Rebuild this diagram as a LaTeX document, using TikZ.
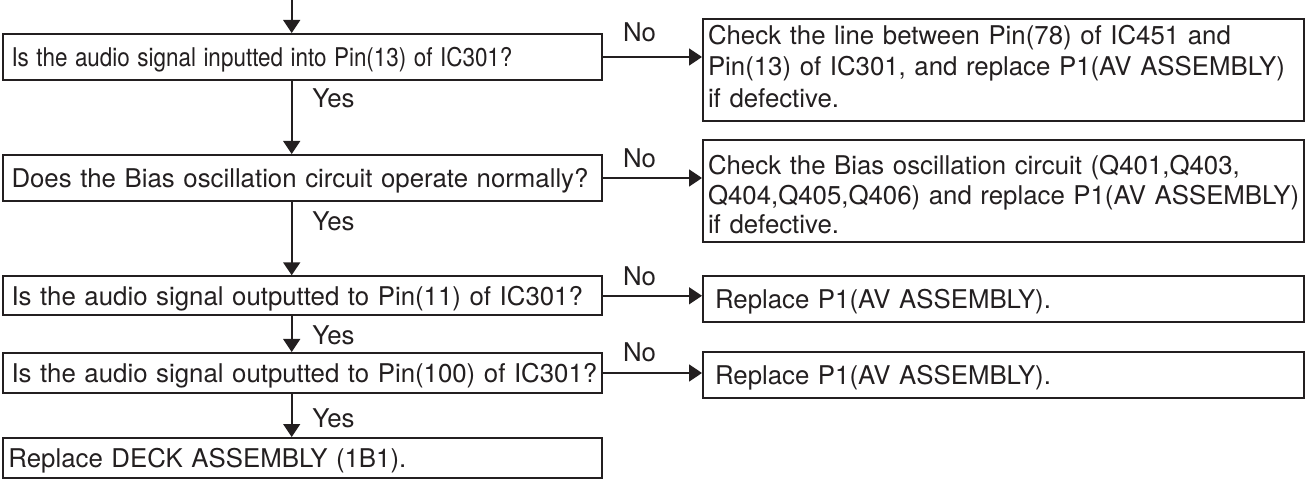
\documentclass[tikz,border=0pt]{standalone}
\usepackage{fontspec}
\setmainfont{TeX Gyre Heros}
\usepackage{graphicx}
\usetikzlibrary{arrows.meta}
\definecolor{ink}{HTML}{231F20}
\begin{document}
\begin{tikzpicture}[x=0.5pt,y=-0.5pt,
  txt/.style={font=\fontsize{12.9pt}{15.75pt}\selectfont, text=ink},
  box/.style={draw=ink, line width=1pt, txt, align=left, inner ysep=0pt},
  lbox/.style={box, minimum width=299.6pt, inner xsep=4.5pt, text width=290.6pt, text height=9.26pt, text depth=0pt},
  rbox/.style={box, minimum width=300.5pt, inner xsep=2.5pt, text width=295.5pt, text height=9.26pt},
  sbox/.style={box, minimum width=300.5pt, inner xsep=6pt, text width=288.5pt, text height=9.26pt, text depth=0pt},
  lab/.style={txt, inner sep=0pt, text height=9.26pt, text depth=0pt},
  conn/.style={draw=ink, line width=0.8pt, -{Triangle[length=6.5pt,width=8.5pt]}},
]
\useasboundingbox (0,0) rectangle (1316,480);

% left column
\node[lbox, minimum height=23pt] (L1) at (302.1,57) {\scalebox{0.87}[1]{Is the audio signal inputted into Pin(13) of IC301?}};
\node[lbox, minimum height=23pt] (L2) at (302.1,178) {\mbox{Does the Bias oscillation circuit operate normally?}};
\node[lbox, minimum height=19.5pt] (L3) at (302.1,295.8) {\mbox{Is the audio signal outputted to Pin(11) of IC301?}};
\node[lbox, minimum height=20pt] (L4) at (302.1,373) {\mbox{Is the audio signal outputted to Pin(100) of IC301?}};
\node[lbox, minimum height=20pt, inner xsep=3pt, text width=293.6pt] (L5) at (302.1,458) {\mbox{Replace DECK ASSEMBLY (1B1).}};

% right column
\node[rbox, minimum height=50.7pt, text depth=34.95pt] (R1) at (1003.5,70)
  {\mbox{Check the line between Pin(78) of IC451 and}\\\mbox{Pin(13) of IC301, and replace P1(AV ASSEMBLY)}\\\mbox{if defective.}};
\node[rbox, minimum height=50.85pt, text depth=25.85pt, font=\fontsize{12.9pt}{14.9pt}\selectfont] (R2) at (1003.5,190.85)
  {\mbox{Check the Bias oscillation circuit (Q401,Q403,}\\\mbox{Q404,Q405,Q406) and replace P1(AV ASSEMBLY)}\\\mbox{if defective.}};
\node[sbox, minimum height=22.85pt] (R3) at (1003.5,298.85) {\mbox{Replace P1(AV ASSEMBLY).}};
\node[sbox, minimum height=23pt] (R4) at (1003.5,375) {\mbox{Replace P1(AV ASSEMBLY).}};

% labels
\node[lab] (no1) at (639.5,32.5) {No};
\node[lab] (no2) at (639.5,158) {No};
\node[lab] (no3) at (639.5,276) {No};
\node[lab] (no4) at (639.5,352.5) {No};
\node[lab, anchor=west] (yes1) at (312,98.3) {Yes};
\node[lab, anchor=west] (yes2) at (312,221.7) {Yes};
\node[lab, anchor=west] (yes3) at (312,335.7) {Yes};
\node[lab, anchor=west] (yes4) at (312,418.3) {Yes};

% connectors
\coordinate (top) at (291.7,0);
\draw[conn] (top) -- (top |- L1.north);
\draw[conn] (top |- L1.south) -- (top |- L2.north);
\draw[conn] (top |- L2.south) -- (top |- L3.north);
\draw[conn] (top |- L3.south) -- (top |- L4.north);
\draw[conn] (top |- L4.south) -- (top |- L5.north);
\draw[conn] (L1.east) -- (L1.east -| R1.west);
\draw[conn] (L2.east) -- (L2.east -| R2.west);
\draw[conn] (L3.east) -- (L3.east -| R3.west);
\draw[conn] (L4.east) -- (L4.east -| R4.west);
\end{tikzpicture}
\end{document}
